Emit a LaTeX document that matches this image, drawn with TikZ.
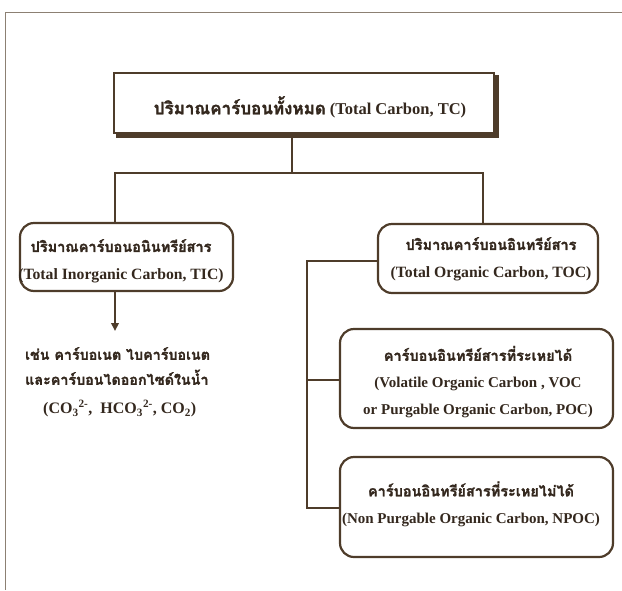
\documentclass[tikz,border=0pt]{standalone}
\usepackage{fontspec}
\setmainfont{Liberation Serif}
\newfontfamily\thai[Script=Thai,BoldFeatures={FakeBold=1.6}]{Loma}
\usetikzlibrary{arrows.meta,backgrounds}
\definecolor{ink}{RGB}{78,60,42}
\definecolor{txt}{RGB}{52,40,30}
\definecolor{frame}{RGB}{140,128,115}
\begin{document}
\begin{tikzpicture}[x=1pt,y=-1pt,
  box/.style={draw=ink,line width=2.2pt,rounded corners=14pt,fill=white,inner sep=0pt},
  mainbox/.style={draw=ink,line width=2.2pt,fill=white,inner sep=0pt},
  lbl/.style={inner sep=0pt,align=center,text=txt,font=\bfseries\fontsize{15.7}{27.5}\selectfont},
  lblsm/.style={lbl,font=\bfseries\fontsize{15}{27}\selectfont},
  link/.style={draw=ink,line width=2pt},
  note/.style={inner sep=0pt,align=left,text=txt,font=\bfseries\fontsize{14.3}{25}\selectfont}]
\useasboundingbox (0,0) rectangle (622,590);
% frame
\draw[frame,line width=0.9pt] (622,12) -- (5,12) -- (5,590);
% boxes
\node[mainbox,minimum width=380pt,minimum height=60pt] (TC) at (304,103) {};
\begin{scope}[on background layer]
  \fill[ink] ([shift={(3.5,3.5)}]TC.north west) rectangle ([shift={(3.5,3.5)}]TC.south east);
\end{scope}
\node[lbl] (TCt) at (310,107)
  {{\thai\fontsize{17}{20}\selectfont ปริมาณคาร์บอนทั้งหมด} {\fontsize{16.5}{20}\selectfont(Total Carbon, TC)}};
\node[box,minimum width=213pt,minimum height=68pt] (TIC) at (126.5,257) {};
\node[lbl] (TICt) at (121,261)
  {{\thai\fontsize{14.5}{27}\selectfont ปริมาณคาร์บอนอนินทรีย์สาร}\\(Total Inorganic Carbon, TIC)};
\node[box,minimum width=220pt,minimum height=69pt] (TOC) at (488,258.5) {};
\node[lbl] (TOCt) at (491,259)
  {{\thai\fontsize{14.5}{27}\selectfont ปริมาณคาร์บอนอินทรีย์สาร}\\(Total Organic Carbon, TOC)};
\node[box,minimum width=273pt,minimum height=99pt] (VOC) at (476.5,378.5) {};
\node[lblsm] (VOCt) at (478,382)
  {{\thai\fontsize{14.5}{27}\selectfont คาร์บอนอินทรีย์สารที่ระเหยได้}\\(Volatile Organic Carbon , VOC\\or Purgable Organic Carbon, POC)};
\node[box,minimum width=273pt,minimum height=100pt] (NPOC) at (476.5,507) {};
\node[lblsm] (NPOCt) at (471,504)
  {{\thai\fontsize{14.5}{26}\selectfont คาร์บอนอินทรีย์สารที่ระเหยไม่ได้}\\(Non Purgable Organic Carbon, NPOC)};
\node[note,anchor=north west] (ex) at (25,347)
  {{\thai เช่น คาร์บอเนต ไบคาร์บอเนต}\\{\thai และคาร์บอนไดออกไซด์ในน้ำ}\\[4pt]
   \hspace*{18pt}{\fontsize{16}{25}\selectfont(CO\textsubscript{3}\textsuperscript{2-},\ \ HCO\textsubscript{3}\textsuperscript{2-}, CO\textsubscript{2})}};
% joints
\coordinate (j) at (292,173);
\coordinate (jl) at (115,173);
\coordinate (jr) at (483,173);
\coordinate (b) at (307,261);
% connectors
\draw[link] (j |- TC.south) -- (j);
\draw[link] (jl |- TIC.north) -- (jl) -- (jr) -- (jr |- TOC.north);
\draw[link,-{Triangle[length=8pt,width=7.5pt]}] (jl |- TIC.south) -- (115,331);
\draw[link] (TOC.west |- b) -- (b) -- (b |- 0,508) -- (NPOC.west |- 0,508);
\draw[link] (b |- 0,380) -- (VOC.west |- 0,380);
\end{tikzpicture}
\end{document}
